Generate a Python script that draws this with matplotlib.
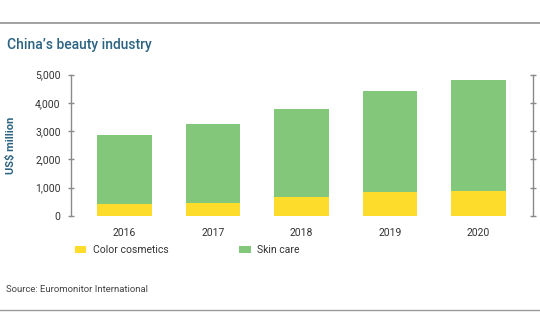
import matplotlib.pyplot as plt
from matplotlib.lines import Line2D
import numpy as np

plt.rcParams['font.family'] = ['Roboto', 'DejaVu Sans']

years = ['2016', '2017', '2018', '2019', '2020']
color_cosmetics = [405, 450, 650, 850, 865]
skin_care_total = [2870, 3250, 3775, 4435, 4810]
skin_care = [t - c for t, c in zip(skin_care_total, color_cosmetics)]
yticks = [0, 1000, 2000, 3000, 4000, 5000]

yellow = '#FDDC2B'
green = '#83C77B'
teal = '#2B6381'
axis_gray = '#8a8a8a'

fig = plt.figure(figsize=(5.4, 3.34), dpi=100)

# axes placed in pixel terms of the 540x334 canvas
W, H = 540, 334
ax = fig.add_axes([71 / W, (H - 215.7) / H, (533 - 71) / W, 141 / H])

x = np.arange(len(years))
ax.bar(x, color_cosmetics, width=0.62, color=yellow, label='Color cosmetics')
ax.bar(x, skin_care, width=0.62, bottom=color_cosmetics, color=green, label='Skin care')

ax.set_xlim(-0.605, 4.616)
ax.set_ylim(0, 5000)
ax.set_yticks(yticks)
ax.set_yticklabels([f'{v:,}' for v in yticks])
ax.set_xticks(x)
ax.set_xticklabels(years)

for s in ['top', 'bottom']:
    ax.spines[s].set_visible(False)
for s in ['left', 'right']:
    ax.spines[s].set_color(axis_gray)
    ax.spines[s].set_linewidth(1.0)

ax.tick_params(axis='y', direction='inout', length=5, width=1, color=axis_gray,
               labelsize=7.5, labelcolor='#333333', pad=5, right=True)
ax.tick_params(axis='x', length=0, labelsize=7.5, labelcolor='#333333', pad=9)

ax.set_ylabel('US$ million', color=teal, fontsize=8, fontweight='bold')
ax.yaxis.set_label_coords(-0.118, 0.5)

leg = ax.legend(loc='center left', bbox_to_anchor=(75 / W, 1 - 250 / H),
                bbox_transform=fig.transFigure, ncol=2, frameon=False,
                fontsize=7.5, handlelength=1.1, handleheight=0.6,
                handletextpad=0.6, columnspacing=6.8, borderpad=0, borderaxespad=0)
for t in leg.get_texts():
    t.set_color('#333333')

fig.text(7 / W, 1 - 45 / H, "China\u2019s beauty industry", color=teal,
         fontsize=10, fontweight='medium', va='center', ha='left')
fig.text(6 / W, 1 - 290 / H, 'Source: Euromonitor International', color='#444444',
         fontsize=6.8, va='center', ha='left')

fig.add_artist(Line2D([0, 1], [1 - 23 / H, 1 - 23 / H], color='#9a9a9a', lw=1.3,
                      transform=fig.transFigure))
fig.add_artist(Line2D([0, 1], [1 - 310 / H, 1 - 310 / H], color='#9a9a9a', lw=1.0,
                      transform=fig.transFigure))

fig.savefig('out.png', dpi=100)
